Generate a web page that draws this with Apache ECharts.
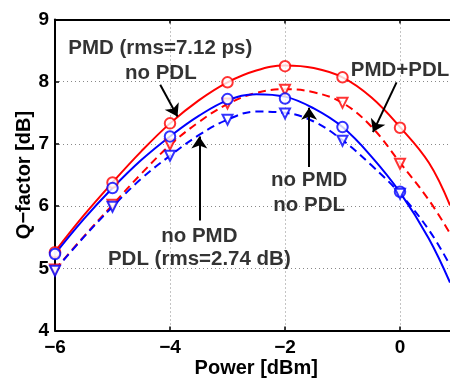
<!DOCTYPE html>
<html>
<head>
<meta charset="utf-8">
<script src="https://cdn.jsdelivr.net/npm/echarts@6/dist/echarts.min.js"></script>
<style>
html,body{margin:0;padding:0;background:#fff;}
#chart{width:450px;height:379px;}
</style>
</head>
<body>
<div id="chart"></div>
<script>
// ---- data ----
var markerX = [-6, -5, -4, -3, -2, -1, 0];
var pmdNoPdlMarks   = [5.26, 6.38, 7.33, 7.99, 8.25, 8.07, 7.26];
var noPmdNoPdlMarks = [5.23, 6.29, 7.12, 7.72, 7.73, 7.27, 6.23];
var pmdPdlMarks     = [4.98, 6.02, 6.99, 7.65, 7.87, 7.66, 6.68];
var noPmdPdlMarks   = [4.96, 5.99, 6.81, 7.39, 7.49, 7.05, 6.20];

var curveX = [-6, -5.5, -5, -4.5, -4, -3.5, -3, -2.5, -2, -1.5, -1, -0.5, 0, 0.5, 0.87];
var pmdNoPdlCurve   = [5.27, 5.85, 6.38, 6.88, 7.33, 7.70, 7.99, 8.18, 8.26, 8.22, 8.07, 7.75, 7.27, 6.70, 6.01];
var noPmdNoPdlCurve = [5.23, 5.79, 6.29, 6.74, 7.12, 7.45, 7.70, 7.80, 7.76, 7.57, 7.27, 6.80, 6.22, 5.48, 4.77];
var pmdPdlCurve     = [4.98, 5.51, 6.02, 6.52, 6.98, 7.35, 7.64, 7.82, 7.88, 7.83, 7.66, 7.28, 6.70, 6.10, 5.56];
var noPmdPdlCurve   = [4.97, 5.50, 5.99, 6.44, 6.81, 7.14, 7.39, 7.52, 7.50, 7.36, 7.06, 6.66, 6.20, 5.62, 5.05];

var xMin = -6, xMax = 1, xStep = 2;
var yMin = 4, yMax = 9, yStep = 1;
var xTitle = 'Power [dBm]';
var yTitle = 'Q\u2212factor [dB]';

// annotation texts [x, y, text]
var annotTexts = [
  [-4.17, 8.53, 'PMD (rms=7.12 ps)'],
  [-4.16, 8.14, 'no PDL'],
  [0.0, 8.19, 'PMD+PDL'],
  [-1.58, 6.42, 'no PMD'],
  [-1.58, 6.01, 'no PDL'],
  [-3.49, 5.52, 'no PMD'],
  [-3.49, 5.15, 'PDL (rms=2.74 dB)']
];
// annotation arrows [[x0,y0],[x1,y1]] (tail -> head)
var annotArrows = [
  [[-4.17, 7.95], [-3.87, 7.44]],
  [[-3.49, 5.77], [-3.49, 7.12]],
  [[-1.58, 6.63], [-1.58, 7.58]],
  [[-0.06, 7.99], [-0.47, 7.19]]
];

function pairs(xs, ys){ return xs.map(function(x,i){ return [x, ys[i]]; }); }

var FONT = '"Liberation Sans", Arial, Helvetica, sans-serif';
var RED = '#ff0000', BLUE = '#0000ff';

function curveSeries(name, ys, color, dashed){
  return {
    name: name, type: 'line', data: pairs(curveX, ys), smooth: 0.4,
    showSymbol: false, silent: true, z: 3,
    lineStyle: { color: color, width: 2, type: dashed ? [8, 5] : 'solid' }
  };
}
function markSeries(name, ys, color, tri){
  return {
    name: name, type: 'scatter', data: pairs(markerX, ys), silent: true, z: 4,
    symbol: tri ? 'emptyTriangle' : 'emptyCircle',
    symbolRotate: tri ? 180 : 0,
    symbolSize: tri ? 10 : 10.5,
    itemStyle: { color: color, borderColor: color, borderWidth: 1.8 }
  };
}

var chart = echarts.init(document.getElementById('chart'), null, {renderer: 'canvas'});
var labelFmt = function(v){ return String(v).replace('-', '\u2212'); };

var option = {
  animation: false,
  backgroundColor: '#fff',
  grid: { left: 55, width: 402.5, top: 19.5, height: 311, containLabel: false, outerBoundsMode: 'none' },
  xAxis: [{
    type: 'value', min: xMin, max: xMax, interval: xStep, position: 'bottom',
    name: xTitle, nameLocation: 'middle', nameGap: 28, nameMoveOverlap: false,
    nameTextStyle: { fontFamily: FONT, fontWeight: 'bold', fontSize: 20, color: '#000' },
    axisLine: { show: true, onZero: false, lineStyle: { color: '#000', width: 2 } },
    axisTick: { show: true, inside: true, length: 4, lineStyle: { color: '#000', width: 1.5 } },
    axisLabel: { formatter: labelFmt, showMaxLabel: false, margin: 8,
      fontFamily: FONT, fontWeight: 'bold', fontSize: 19, color: '#000' },
    splitLine: { show: true, lineStyle: { color: '#888', width: 1, type: [1, 3] } }
  }, {
    type: 'value', min: xMin, max: xMax, interval: xStep, position: 'top',
    axisLine: { show: true, onZero: false, lineStyle: { color: '#000', width: 2 } },
    axisTick: { show: true, inside: true, length: 4, lineStyle: { color: '#000', width: 1.5 } },
    axisLabel: { show: false }, splitLine: { show: false }
  }],
  yAxis: [{
    type: 'value', min: yMin, max: yMax, interval: yStep, position: 'left',
    name: yTitle, nameLocation: 'middle', nameGap: 21, nameMoveOverlap: false,
    nameTextStyle: { fontFamily: FONT, fontWeight: 'bold', fontSize: 20, color: '#000' },
    axisLine: { show: true, onZero: false, lineStyle: { color: '#000', width: 2 } },
    axisTick: { show: true, inside: true, length: 4, lineStyle: { color: '#000', width: 1.5 } },
    axisLabel: { formatter: labelFmt, margin: 6,
      fontFamily: FONT, fontWeight: 'bold', fontSize: 19, color: '#000' },
    splitLine: { show: true, lineStyle: { color: '#888', width: 1, type: [1, 3] } }
  }],
  series: [
    curveSeries('PMD no PDL', pmdNoPdlCurve, RED, false),
    curveSeries('PMD+PDL', pmdPdlCurve, RED, true),
    curveSeries('no PMD no PDL', noPmdNoPdlCurve, BLUE, false),
    curveSeries('no PMD PDL', noPmdPdlCurve, BLUE, true),
    markSeries('PMD no PDL marks', pmdNoPdlMarks, RED, false),
    markSeries('PMD+PDL marks', pmdPdlMarks, RED, true),
    markSeries('no PMD no PDL marks', noPmdNoPdlMarks, BLUE, false),
    markSeries('no PMD PDL marks', noPmdPdlMarks, BLUE, true),
    {
      name: 'annotations', type: 'scatter', silent: true, z: 6,
      symbolSize: 0,
      data: annotTexts.map(function(a){ return { value: [a[0], a[1]], text: a[2] }; }),
      label: {
        show: true, position: 'inside',
        formatter: function(p){ return p.data.text; },
        fontFamily: FONT, fontWeight: 'bold', fontSize: 20.5, color: '#000'
      },
      labelLayout: { hideOverlap: false },
      markLine: {
        silent: true, animation: false,
        symbol: ['none', 'arrow'], symbolSize: 12,
        label: { show: false },
        lineStyle: { color: '#000', width: 2, type: 'solid' },
        data: annotArrows.map(function(a){
          return [{ coord: a[0] }, { coord: a[1] }];
        })
      }
    }
  ]
};
chart.setOption(option);
</script>
</body>
</html>
